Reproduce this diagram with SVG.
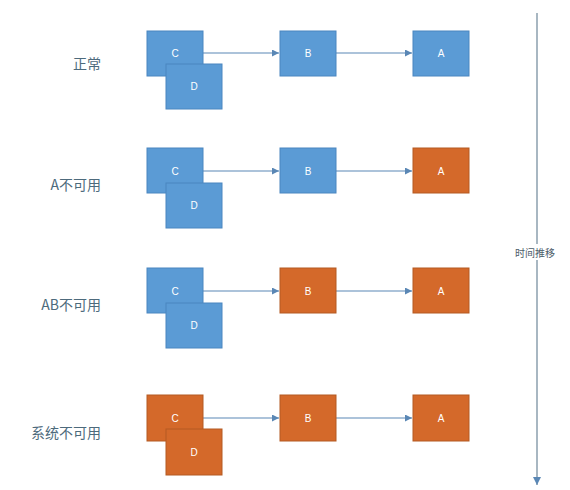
<svg xmlns="http://www.w3.org/2000/svg" width="570" height="490" viewBox="0 0 570 490">
<defs>
<style>
.blue{fill:#5b9bd5;stroke:#4a86c0;stroke-width:1}
.orange{fill:#d4692a;stroke:#b45a22;stroke-width:1}
.bl{font-family:"Liberation Sans",Arial,sans-serif;font-size:10px;fill:#ffffff;text-anchor:middle;dominant-baseline:central}
.rl{font-family:"Noto Sans CJK SC","Noto Sans",sans-serif;font-size:14px;fill:#4d6a7c;text-anchor:end;dominant-baseline:central}
.tl{font-family:"Noto Sans CJK SC",sans-serif;font-size:10px;fill:#4d5d6a;text-anchor:middle;dominant-baseline:central}
.ln{stroke:#5a87b5;stroke-width:1.2;fill:none;marker-end:url(#ah)}
.tline{stroke:#6e8799;stroke-width:1.2;fill:none;marker-end:url(#ah2)}
</style>
<marker id="ah" viewBox="0 0 10 10" refX="10" refY="5" markerWidth="7" markerHeight="7" orient="auto" markerUnits="userSpaceOnUse">
<path d="M0,0 L10,5 L0,10 z" fill="#5a87b5"/>
</marker>
<marker id="ah2" viewBox="0 0 10 10" refX="10" refY="5" markerWidth="8" markerHeight="8" orient="auto" markerUnits="userSpaceOnUse">
<path d="M0,0 L10,5 L0,10 z" fill="#5a87b5"/>
</marker>
</defs>
<rect width="570" height="490" fill="#ffffff"/>

<g id="connectors">
<line class="ln" x1="203" y1="53" x2="279" y2="53"/>
<line class="ln" x1="336" y1="53" x2="412" y2="53"/>
<line class="ln" x1="203" y1="171" x2="279" y2="171"/>
<line class="ln" x1="336" y1="171" x2="412" y2="171"/>
<line class="ln" x1="203" y1="291" x2="279" y2="291"/>
<line class="ln" x1="336" y1="291" x2="412" y2="291"/>
<line class="ln" x1="203" y1="418" x2="279" y2="418"/>
<line class="ln" x1="336" y1="418" x2="412" y2="418"/>
<line class="tline" x1="537" y1="13" x2="537" y2="485"/>
</g>

<g id="timeline-label">
<rect x="511" y="244" width="50" height="16" fill="#ffffff"/>
<text class="tl" x="535" y="252">时间推移</text>
</g>

<g id="row1">
<text class="rl" x="101" y="63">正常</text>
<g id="r1-C"><rect class="blue" x="147" y="31" width="56" height="45"/><text class="bl" x="175" y="53">C</text></g>
<g id="r1-D"><rect class="blue" x="166" y="64" width="56" height="45"/><text class="bl" x="194" y="86">D</text></g>
<g id="r1-B"><rect class="blue" x="280" y="31" width="56" height="45"/><text class="bl" x="308" y="53">B</text></g>
<g id="r1-A"><rect class="blue" x="413" y="31" width="56" height="45"/><text class="bl" x="441" y="53">A</text></g>
</g>

<g id="row2">
<text class="rl" x="101" y="184">A不可用</text>
<g id="r2-C"><rect class="blue" x="147" y="148" width="56" height="45"/><text class="bl" x="175" y="171">C</text></g>
<g id="r2-D"><rect class="blue" x="166" y="183" width="56" height="45"/><text class="bl" x="194" y="205">D</text></g>
<g id="r2-B"><rect class="blue" x="280" y="148" width="56" height="45"/><text class="bl" x="308" y="171">B</text></g>
<g id="r2-A"><rect class="orange" x="413" y="148" width="56" height="45"/><text class="bl" x="441" y="171">A</text></g>
</g>

<g id="row3">
<text class="rl" x="101" y="304">AB不可用</text>
<g id="r3-C"><rect class="blue" x="147" y="268" width="56" height="45"/><text class="bl" x="175" y="291">C</text></g>
<g id="r3-D"><rect class="blue" x="166" y="303" width="56" height="45"/><text class="bl" x="194" y="325">D</text></g>
<g id="r3-B"><rect class="orange" x="280" y="268" width="56" height="45"/><text class="bl" x="308" y="291">B</text></g>
<g id="r3-A"><rect class="orange" x="413" y="268" width="56" height="45"/><text class="bl" x="441" y="291">A</text></g>
</g>

<g id="row4">
<text class="rl" x="101" y="432">系统不可用</text>
<g id="r4-C"><rect class="orange" x="147" y="395" width="56" height="46"/><text class="bl" x="175" y="418">C</text></g>
<g id="r4-D"><rect class="orange" x="166" y="429" width="56" height="46"/><text class="bl" x="194" y="452">D</text></g>
<g id="r4-B"><rect class="orange" x="280" y="395" width="56" height="46"/><text class="bl" x="308" y="418">B</text></g>
<g id="r4-A"><rect class="orange" x="413" y="395" width="56" height="46"/><text class="bl" x="441" y="418">A</text></g>
</g>
</svg>
